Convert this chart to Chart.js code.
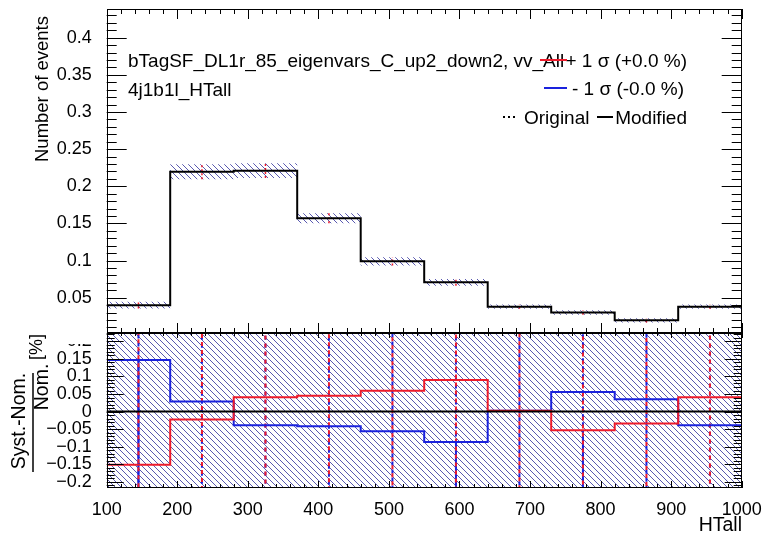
<!DOCTYPE html>
<html>
<head>
<meta charset="utf-8">
<title>HTall systematic</title>
<script src="https://cdn.jsdelivr.net/npm/chart.js@4.4.1/dist/chart.umd.min.js"></script>
<style>
  html, body { margin: 0; padding: 0; background: #fff; }
  #wrap { position: relative; width: 765px; height: 533px; }
  #wrap canvas { position: absolute; left: 0; top: 0; }
</style>
</head>
<body>
<div id="wrap">
  <canvas id="ratioChart" width="765" height="533"></canvas>
  <canvas id="mainChart" width="765" height="345"></canvas>
</div>
<script>
// histogram binning (HTall)
const binEdges = [100, 190, 280, 370, 460, 550, 640, 730, 820, 910, 1000];
const binCenters = [145, 235, 325, 415, 505, 595, 685, 775, 865, 955];
// nominal / modified yields and stat error band
const modified = [0.040, 0.2195, 0.221, 0.157, 0.099, 0.0707, 0.038, 0.030, 0.0195, 0.038];
const statErr = [0.0045, 0.010, 0.010, 0.0067, 0.0055, 0.0045, 0.003, 0.003, 0.003, 0.003];
// (syst - nom) / nom
const ratioUp = [-0.152, -0.023, 0.041, 0.045, 0.059, 0.090, 0.002, -0.053, -0.034, 0.041];
const ratioDown = [0.147, 0.029, -0.039, -0.042, -0.056, -0.087, 0.002, 0.056, 0.035, -0.039];
const ratioErrUp = [0.6, 0.6, 0.6, 0.6, 0.6, 0.6, 0.6, 0.6, 0.6, 0.6];
const ratioErrDown = [0.6, 0.6, 0.6, 0.6, 0.6, 0.6, 0.6, 0.6, 0.6, 0.6];
const ratioBand = [0.5, 0.5, 0.5, 0.5, 0.5, 0.5, 0.5, 0.5, 0.5, 0.5];
// solid blue part of the down error bar (top end), null = none
const downSolidTop = [0.147, null, null, null, null, -0.087, null, -0.053, null, null];
// tick labels
const xTicks = [100, 200, 300, 400, 500, 600, 700, 800, 900, 1000];
const mainYTicks = [0.05, 0.1, 0.15, 0.2, 0.25, 0.3, 0.35, 0.4];
const ratioYTicks = [-0.2, -0.15, -0.1, -0.05, 0, 0.05, 0.1, 0.15, 0.2];

const RED = '#ee1b2b';
const BLUE = '#1a22dd';
const FONT = '"Liberation Sans", Arial, Helvetica, sans-serif';
Chart.defaults.font.family = FONT;
Chart.defaults.font.size = 18;
Chart.defaults.color = '#000';

function makeHatch(color, step) {
  const tile = document.createElement('canvas');
  tile.width = step; tile.height = step;
  const g = tile.getContext('2d');
  g.strokeStyle = color;
  g.lineWidth = 1;
  g.beginPath();
  g.moveTo(-1, -1); g.lineTo(step + 1, step + 1);
  g.moveTo(-1, step - 1); g.lineTo(1, step + 1);
  g.moveTo(step - 1, -1); g.lineTo(step + 1, 1);
  g.stroke();
  return g.createPattern(tile, 'repeat');
}
const hatch = makeHatch('rgba(35,35,150,0.75)', 6);

const stepPoints = vals => binEdges.map((e, i) => ({x: e, y: vals[Math.min(i, vals.length - 1)]}));
const errBars = (vals, lo, hi) => binCenters.flatMap((c, i) => [
  {x: c, y: vals[i] - lo[i]}, {x: c, y: vals[i] + hi[i]}, {x: c, y: null}
]);
const fmt = v => {
  const s = String(+v.toFixed(2));
  return s.replace('-', '\u2212');
};

// inward ROOT-style ticks and frame
function drawFrame(chart, t) {
  const {ctx, chartArea: a} = chart;
  const x = chart.scales.x, y = chart.scales.y;
  ctx.save();
  ctx.strokeStyle = '#000';
  ctx.lineWidth = 1;
  ctx.beginPath();
  for (let v = 100; v <= 1000; v += 20) {
    const px = Math.round(x.getPixelForValue(v)) + 0.5;
    const major = v % 100 === 0;
    const lb = major ? t.xBot[0] : t.xBot[1];
    const lt = major ? t.xTop[0] : t.xTop[1];
    ctx.moveTo(px, a.bottom); ctx.lineTo(px, a.bottom - lb);
    ctx.moveTo(px, a.top); ctx.lineTo(px, a.top + lt);
  }
  for (let k = t.kMin; k <= t.kMax; k++) {
    const py = Math.round(y.getPixelForValue(k / 100)) + 0.5;
    const L = k % 5 === 0 ? t.y[0] : t.y[1];
    ctx.moveTo(a.left, py); ctx.lineTo(a.left + L, py);
    ctx.moveTo(a.right, py); ctx.lineTo(a.right - L, py);
  }
  ctx.stroke();
  ctx.strokeRect(Math.round(a.left) + 0.5, Math.round(a.top) + 0.5,
    Math.round(a.right - a.left) - 1, Math.round(a.bottom - a.top) - 1);
  ctx.restore();
}

const mainPlugin = {
  id: 'mainDecor',
  beforeDraw(chart) {
    const ctx = chart.ctx;
    ctx.save();
    ctx.fillStyle = '#fff';
    ctx.fillRect(0, 0, 765, 333);
    ctx.fillRect(60, 333, 44, 11);
    ctx.restore();
  },
  afterDatasetsDraw(chart) {
    drawFrame(chart, {xBot: [10, 5], xTop: [10, 5], y: [20, 10], kMin: 1, kMax: 43});
  },
  afterDraw(chart) {
    const ctx = chart.ctx;
    ctx.save();
    ctx.fillStyle = '#000';
    ctx.font = '19px ' + FONT;
    ctx.textBaseline = 'alphabetic';
    ctx.fillText('bTagSF_DL1r_85_eigenvars_C_up2_down2, vv_All', 128, 67);
    ctx.fillText('4j1b1l_HTall', 128, 96);
    ctx.textAlign = 'right';
    ctx.fillText('+ 1 \u03c3 (+0.0 %)', 687, 67);
    ctx.fillText('- 1 \u03c3 (-0.0 %)', 684, 95);
    ctx.fillText('Modified', 687, 124);
    ctx.textAlign = 'left';
    ctx.fillText('Original', 524, 124);
    ctx.lineWidth = 2;
    ctx.strokeStyle = RED;
    ctx.beginPath(); ctx.moveTo(540, 60); ctx.lineTo(567, 60); ctx.stroke();
    ctx.strokeStyle = BLUE;
    ctx.beginPath(); ctx.moveTo(544, 88); ctx.lineTo(567, 88); ctx.stroke();
    ctx.strokeStyle = '#000';
    ctx.beginPath(); ctx.moveTo(597, 117); ctx.lineTo(613, 117); ctx.stroke();
    ctx.setLineDash([2, 3]);
    ctx.beginPath(); ctx.moveTo(503, 117); ctx.lineTo(517, 117); ctx.stroke();
    ctx.setLineDash([]);
    ctx.translate(43, 16);
    ctx.rotate(-Math.PI / 2);
    ctx.textAlign = 'right';
    ctx.textBaseline = 'middle';
    ctx.font = '18.5px ' + FONT;
    ctx.fillText('Number of events', 0, 0);
    ctx.restore();
  }
};

const ratioPlugin = {
  id: 'ratioDecor',
  beforeDraw(chart) {
    const ctx = chart.ctx;
    ctx.save();
    ctx.fillStyle = '#fff';
    ctx.fillRect(0, 0, 765, 533);
    ctx.restore();
  },
  afterDatasetsDraw(chart) {
    const {ctx, chartArea: a} = chart;
    const y0 = chart.scales.y.getPixelForValue(0);
    ctx.save();
    ctx.strokeStyle = '#000';
    ctx.lineWidth = 2;
    ctx.beginPath();
    ctx.moveTo(a.left, y0); ctx.lineTo(a.right, y0);
    ctx.moveTo(a.left, a.top); ctx.lineTo(a.right, a.top);
    ctx.stroke();
    ctx.restore();
    drawFrame(chart, {xBot: [7, 4], xTop: [5, 3], y: [17, 8], kMin: -21, kMax: 22});
  },
  afterDraw(chart) {
    const ctx = chart.ctx;
    ctx.save();
    ctx.fillStyle = '#000';
    ctx.font = '19.5px ' + FONT;
    ctx.textAlign = 'right';
    ctx.textBaseline = 'alphabetic';
    ctx.fillText('HTall', 742, 531);
    ctx.strokeStyle = '#000';
    ctx.lineWidth = 1.5;
    ctx.beginPath(); ctx.moveTo(33, 373); ctx.lineTo(33, 472); ctx.stroke();
    const rot = (txt, cx, cy, size) => {
      ctx.save();
      ctx.font = size + 'px ' + FONT;
      ctx.translate(cx, cy);
      ctx.rotate(-Math.PI / 2);
      ctx.textAlign = 'center';
      ctx.textBaseline = 'middle';
      ctx.fillText(txt, 0, 0);
      ctx.restore();
    };
    rot('Syst.-Nom.', 20, 421, 19.5);
    rot('Nom.', 43, 387, 19.5);
    rot('[%]', 37, 347, 18);
    ctx.restore();
  }
};

const commonX = {
  type: 'linear', min: 100, max: 1000, offset: false,
  grid: {display: false, offset: false}, border: {display: false},
  afterBuildTicks: s => { s.ticks = xTicks.map(v => ({value: v})); }
};

new Chart(document.getElementById('mainChart'), {
  type: 'bar',
  data: {
    datasets: [
      {type: 'line', label: 'Modified', data: stepPoints(modified), stepped: true,
       borderColor: '#000', borderWidth: 2, pointRadius: 0, order: 1},
      {type: 'line', label: 'syst error', data: errBars(modified, statErr, statErr),
       borderColor: RED, borderWidth: 1.5, borderDash: [2, 2], pointRadius: 0, spanGaps: false, order: 2},
      {type: 'bar', label: 'stat', data: binCenters.map((c, i) => ({x: c, y: [modified[i] - statErr[i], modified[i] + statErr[i]]})),
       backgroundColor: hatch, borderWidth: 0, barPercentage: 1, categoryPercentage: 1, inflateAmount: 0, order: 3}
    ]
  },
  options: {
    responsive: false, animation: false, devicePixelRatio: 1,
    layout: {padding: {left: 0, right: 23.3, top: 9, bottom: 12}},
    plugins: {legend: {display: false}, tooltip: {enabled: false}},
    scales: {
      x: Object.assign({}, commonX, {display: false}),
      y: {
        min: 0.0025, max: 0.4386,
        grid: {display: false}, border: {display: false},
        afterBuildTicks: s => { s.ticks = mainYTicks.map(v => ({value: v})); },
        ticks: {autoSkip: false, padding: 7, callback: v => fmt(v)},
        afterFit: s => { s.width = 106.7; s.paddingTop = 0; s.paddingBottom = 0; }
      }
    }
  },
  plugins: [mainPlugin]
});

new Chart(document.getElementById('ratioChart'), {
  type: 'bar',
  data: {
    datasets: [
      {type: 'line', label: '+1 sigma', data: stepPoints(ratioUp), stepped: true,
       borderColor: RED, borderWidth: 2, pointRadius: 0, order: 1},
      {type: 'line', label: '-1 sigma', data: stepPoints(ratioDown), stepped: true,
       borderColor: BLUE, borderWidth: 2, pointRadius: 0, order: 2},
      {type: 'line', label: 'up err', data: errBars(ratioUp, ratioErrUp, ratioErrUp),
       borderColor: RED, borderWidth: 2, borderDash: [4, 4], borderDashOffset: 4, pointRadius: 0, spanGaps: false, order: 3},
      {type: 'line', label: 'down err solid', data: binCenters.flatMap((c, i) => downSolidTop[i] === null ? [] :
         [{x: c, y: downSolidTop[i]}, {x: c, y: ratioDown[i] - ratioErrDown[i]}, {x: c, y: null}]),
       borderColor: BLUE, borderWidth: 2, pointRadius: 0, spanGaps: false, order: 4},
      {type: 'line', label: 'down err', data: errBars(ratioDown, ratioErrDown, ratioErrDown),
       borderColor: BLUE, borderWidth: 2, borderDash: [4, 4], pointRadius: 0, spanGaps: false, order: 5},
      {type: 'bar', label: 'band', data: binCenters.map((c, i) => ({x: c, y: [-ratioBand[i], ratioBand[i]]})),
       backgroundColor: hatch, borderWidth: 0, barPercentage: 1, categoryPercentage: 1, inflateAmount: 0, order: 6}
    ]
  },
  options: {
    responsive: false, animation: false, devicePixelRatio: 1,
    layout: {padding: {left: 0, right: 23.3, top: 333, bottom: 0}},
    plugins: {legend: {display: false}, tooltip: {enabled: false}},
    scales: {
      x: Object.assign({}, commonX, {
        ticks: {autoSkip: false, maxRotation: 0, padding: 3, callback: v => String(v)},
        afterFit: s => { s.height = 45; s.paddingLeft = 0; s.paddingRight = 0; }
      }),
      y: {
        min: -0.218, max: 0.224,
        grid: {display: false}, border: {display: false},
        afterBuildTicks: s => { s.ticks = ratioYTicks.map(v => ({value: v})); },
        ticks: {autoSkip: false, padding: 7, callback: v => fmt(v)},
        afterFit: s => { s.width = 106.7; s.paddingTop = 0; s.paddingBottom = 0; }
      }
    }
  },
  plugins: [ratioPlugin]
});
</script>
</body>
</html>
